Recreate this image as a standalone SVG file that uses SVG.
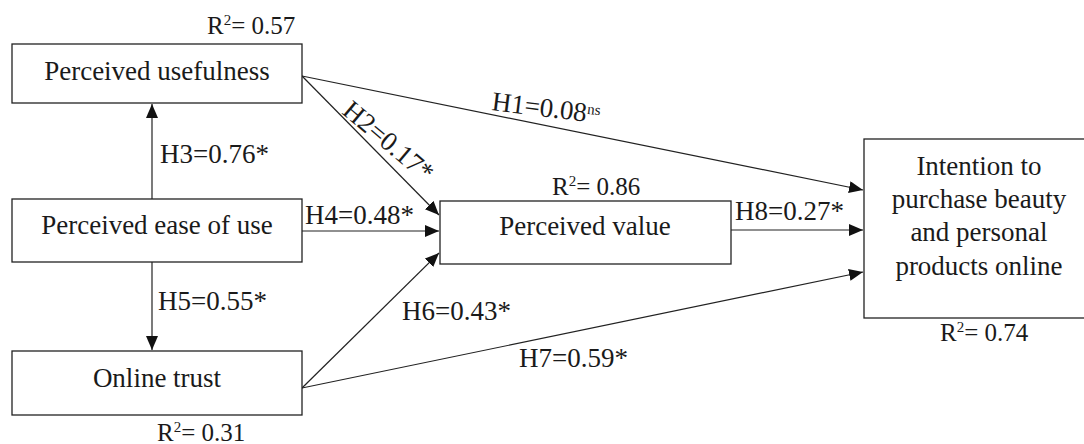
<svg xmlns="http://www.w3.org/2000/svg" width="1084" height="444" viewBox="0 0 1084 444">
<style>
.box{fill:#fff;stroke:#222;stroke-width:1.3}
.t{font-family:"Liberation Serif","Times New Roman",serif;font-size:27px;fill:#1a1a1a}
.r{font-size:25px}
.c{text-anchor:middle}
.ln{stroke:#222;stroke-width:1.2;fill:none;marker-end:url(#ah)}
.sup{font-size:15px}
</style>
<defs>
<marker id="ah" markerUnits="userSpaceOnUse" markerWidth="16" markerHeight="14" refX="14" refY="6" orient="auto">
<path d="M0,0 L14,6 L0,12 Z" fill="#111"/>
</marker>
</defs>
<rect width="1084" height="444" fill="#fff"/>
<g id="connectors">
<line class="ln" x1="152" y1="199" x2="152" y2="104"/>
<line class="ln" x1="152" y1="262" x2="152" y2="350"/>
<line class="ln" x1="302" y1="231" x2="439" y2="231"/>
<line class="ln" x1="302" y1="76" x2="439" y2="215"/>
<line class="ln" x1="302" y1="76" x2="863" y2="190"/>
<line class="ln" x1="731" y1="230" x2="863" y2="230"/>
<line class="ln" x1="302" y1="388" x2="439" y2="253"/>
<line class="ln" x1="302" y1="388" x2="863" y2="272"/>
<text class="t" x="160" y="163">H3=0.76*</text>
<text class="t" x="158" y="310">H5=0.55*</text>
<text class="t" x="305" y="224">H4=0.48*</text>
<text class="t" transform="translate(341,113) rotate(40)">H2=0.17*</text>
<text class="t" transform="translate(491,110) rotate(7)">H1=0.08<tspan class="sup" dy="-8">ns</tspan></text>
<text class="t" x="735" y="220">H8=0.27*</text>
<text class="t" x="402" y="320">H6=0.43*</text>
<text class="t" x="519" y="367">H7=0.59*</text>
</g>
<g id="pu">
<rect class="box" x="12" y="44" width="290" height="59"/>
<text class="t c" x="157" y="80">Perceived usefulness</text>
<text class="t r" x="207" y="34">R<tspan class="sup" dy="-9">2</tspan><tspan dy="9">= 0.57</tspan></text>
</g>
<g id="peou">
<rect class="box" x="12" y="199" width="290" height="63"/>
<text class="t c" x="157" y="234">Perceived ease of use</text>
</g>
<g id="ot">
<rect class="box" x="12" y="351" width="290" height="64"/>
<text class="t c" x="157" y="387">Online trust</text>
<text class="t r" x="157" y="441">R<tspan class="sup" dy="-9">2</tspan><tspan dy="9">= 0.31</tspan></text>
</g>
<g id="pv">
<rect class="box" x="440" y="201" width="291" height="63"/>
<text class="t c" x="585" y="235">Perceived value</text>
<text class="t r" x="552" y="195">R<tspan class="sup" dy="-9">2</tspan><tspan dy="9">= 0.86</tspan></text>
</g>
<g id="intention">
<rect class="box" x="864" y="139" width="230" height="179"/>
<text class="t c" x="979" y="175">Intention to</text>
<text class="t c" x="979" y="208">purchase beauty</text>
<text class="t c" x="979" y="241">and personal</text>
<text class="t c" x="979" y="275">products online</text>
<text class="t r" x="940" y="341">R<tspan class="sup" dy="-9">2</tspan><tspan dy="9">= 0.74</tspan></text>
</g>
</svg>
